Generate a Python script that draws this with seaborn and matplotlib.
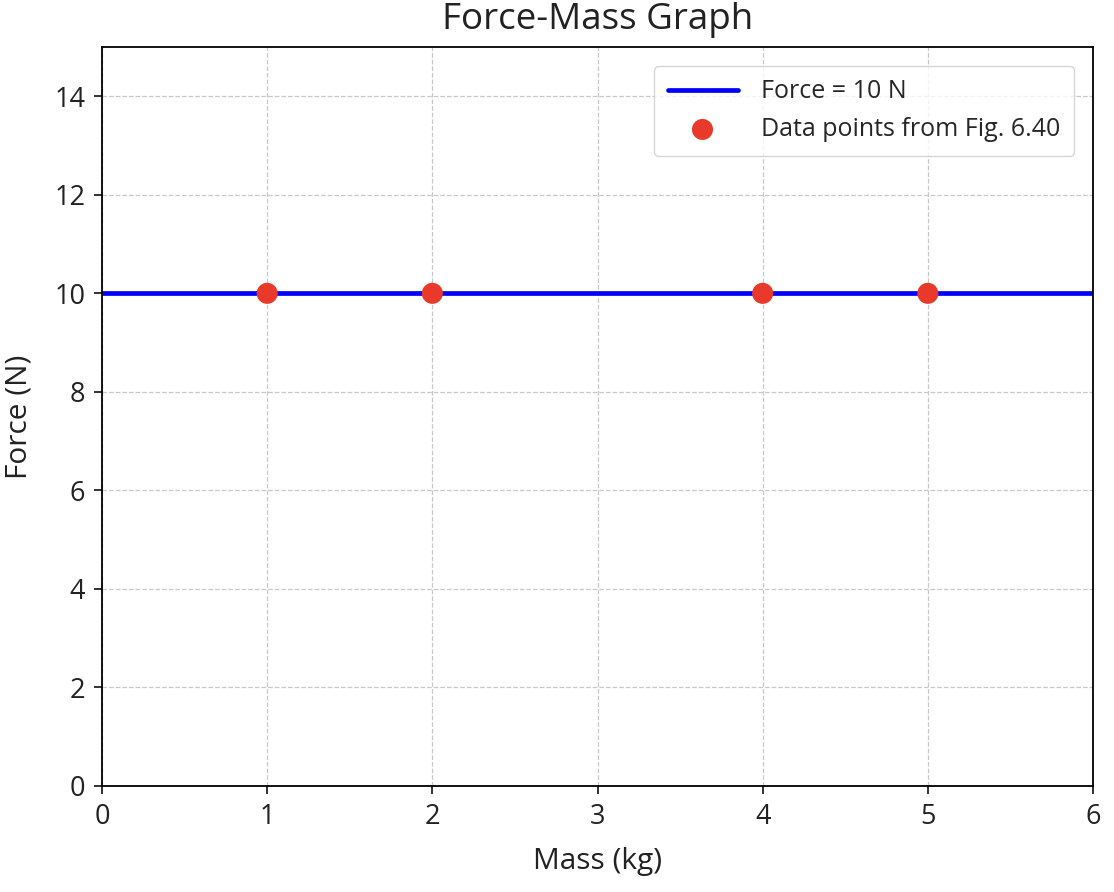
import matplotlib
matplotlib.use("Agg")
import matplotlib.pyplot as plt
import seaborn as sns
import pandas as pd

line_mass = [0, 6]
line_force = [10, 10]
point_mass = [1, 2, 4, 5]
point_force = [10, 10, 10, 10]

sns.set_style("ticks")
plt.rcParams['font.family'] = ['Open Sans', 'DejaVu Sans']

fig = plt.figure(figsize=(11.14, 8.92), dpi=100)
ax = fig.add_axes([102/1114, 1 - 786/892, (1093-102)/1114, (786-47)/892])

sns.lineplot(x=line_mass, y=line_force, ax=ax, color="blue", linewidth=3.4,
             label="Force = 10 N", zorder=2)
sns.scatterplot(x=point_mass, y=point_force, ax=ax, color="#E8392A", s=230,
                edgecolor="none", label="Data points from Fig. 6.40", zorder=3)

ax.set_xlim(0, 6)
ax.set_ylim(0, 15)
ax.set_xticks(range(0, 7))
ax.set_yticks(range(0, 15, 2))
ax.grid(True, linestyle="--", color="#c8c8c8", linewidth=0.9)
ax.set_axisbelow(True)
for s in ax.spines.values():
    s.set_visible(True)
    s.set_linewidth(1.3)
    s.set_color("black")
ax.tick_params(labelsize=19.5, length=6, width=1.3, colors="#222222", pad=6)
ax.set_xlabel("Mass (kg)", fontsize=21.5, labelpad=12, color="#222222")
ax.set_ylabel("Force (N)", fontsize=21.5, labelpad=15, color="#222222")
ax.set_title("Force-Mass Graph", fontsize=26.5, pad=13, color="#222222")
leg = ax.legend(loc="upper right", fontsize=18, frameon=True, borderpad=0.55,
                handlelength=2.8, handletextpad=0.95, labelspacing=0.5,
                borderaxespad=0.75)
leg.get_frame().set_edgecolor("#cccccc")

fig.savefig("out.png", dpi=100)
